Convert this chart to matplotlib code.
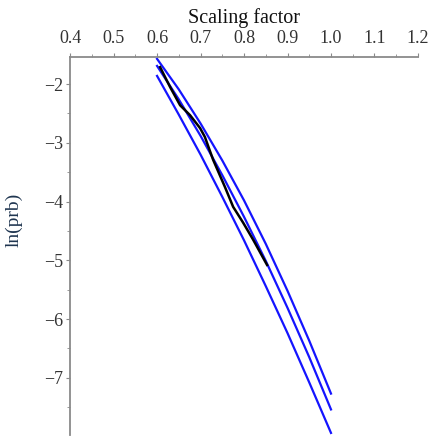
import matplotlib
matplotlib.use("Agg")
import matplotlib.pyplot as plt
from matplotlib.ticker import MultipleLocator

# scaling factor grid for the three blue curves
x_blue = [0.6, 0.65, 0.7, 0.75, 0.8, 0.85, 0.9, 0.95, 1.0]
y_upper = [-1.57, -2.09, -2.67, -3.30, -3.98, -4.72, -5.52, -6.37, -7.27]
y_middle = [-1.69, -2.26, -2.88, -3.55, -4.26, -5.01, -5.81, -6.65, -7.54]
y_lower = [-1.86, -2.52, -3.20, -3.92, -4.66, -5.44, -6.24, -7.08, -7.94]

# black (simulated) curve
x_black = [0.607, 0.630, 0.653, 0.676, 0.699, 0.710, 0.729, 0.756, 0.775, 0.798, 0.821, 0.853]
y_black = [-1.71, -2.05, -2.36, -2.53, -2.75, -2.90, -3.29, -3.75, -4.09, -4.36, -4.65, -5.08]

x_ticks = [0.4, 0.5, 0.6, 0.7, 0.8, 0.9, 1.0, 1.1, 1.2]
y_ticks = [-2, -3, -4, -5, -6, -7]


def main():
    plt.rcParams['font.family'] = ['Liberation Serif', 'DejaVu Serif']
    plt.rcParams['axes.unicode_minus'] = True

    fig = plt.figure(figsize=(4.3, 4.36), dpi=100)
    ax = fig.add_axes([0.163, 0.003, 0.809, 0.866])

    ax.plot(x_blue, y_upper, color='#1414ff', lw=1.6)
    ax.plot(x_blue, y_middle, color='#1414ff', lw=1.6)
    ax.plot(x_blue, y_lower, color='#1414ff', lw=1.6)
    ax.plot(x_black, y_black, color='black', lw=1.8)

    ax.set_xlim(0.4, 1.2)
    ax.set_ylim(-7.97, -1.54)

    ax.spines['right'].set_visible(False)
    ax.spines['bottom'].set_visible(False)
    for s in ('top', 'left'):
        ax.spines[s].set_color('#8a8a8a')
        ax.spines[s].set_linewidth(1.3)

    ax.xaxis.tick_top()
    ax.xaxis.set_label_position('top')
    ax.set_xticks(x_ticks)
    ax.set_xticklabels([f"{v:.1f}" for v in x_ticks])
    ax.xaxis.set_minor_locator(MultipleLocator(0.05))
    ax.set_yticks(y_ticks)
    ax.set_yticklabels([f"\u2212{abs(v)}" for v in y_ticks])
    ax.yaxis.set_minor_locator(MultipleLocator(0.5))

    ax.tick_params(which='major', length=3, width=0.8, color='#8a8a8a',
                   labelsize=13, labelcolor='#333333', pad=2)
    ax.tick_params(axis='x', which='major', pad=4)
    ax.tick_params(which='minor', length=2, width=0.6, color='#8a8a8a')

    ax.set_xlabel('Scaling factor', fontsize=14.5, color='#111111', labelpad=5)
    ax.set_ylabel('ln(prb)', fontsize=14, color='#1f3550')
    ax.yaxis.set_label_coords(-0.135, 0.57)

    fig.savefig('out.png', dpi=100)


if __name__ == "__main__":
    main()
